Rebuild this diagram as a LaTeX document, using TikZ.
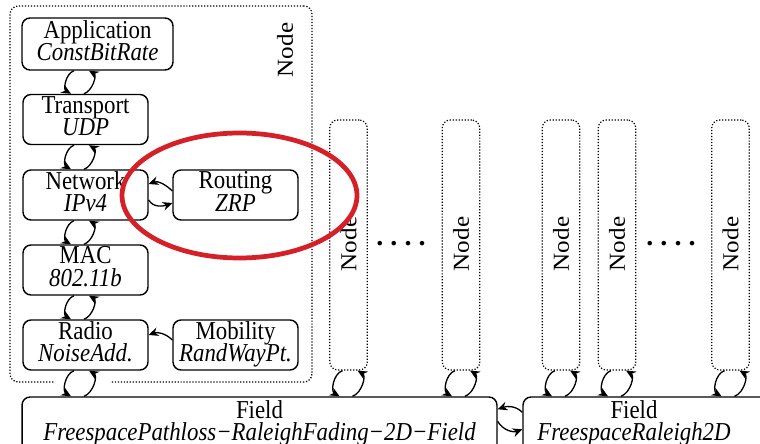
\documentclass[tikz,border=0pt]{standalone}
\usepackage{graphicx}
\usepackage{fontspec}
\setmainfont{Liberation Serif}
\usetikzlibrary{calc,arrows.meta}
\definecolor{ringred}{RGB}{214,32,39}
\newcommand{\vs}[1]{\strut\scalebox{1}[1.13]{#1}}
\newcommand{\tightlines}{\lineskiplimit=-20pt\relax\lineskip=0pt\relax}
\tikzset{
  txtfont/.style={font={\fontsize{13}{13}\selectfont\tightlines}},
  box/.style={draw, line width=0.8pt, rounded corners=0.16cm, align=center, inner sep=0pt,
    txtfont, minimum width=2.5cm, minimum height=1.0cm},
  dbox/.style={draw, densely dotted, line width=0.7pt, rounded corners=0.16cm, inner sep=0pt},
  arr/.style={-{Stealth[length=5.5pt,width=5pt]}, line width=0.75pt},
  lbl/.style={txtfont, inner sep=0pt},
  dotrow/.style={inner sep=0pt, anchor=base, font=\fontsize{16}{16}\selectfont\bfseries},
  ring/.style={draw=ringred, line width=2.7pt},
}
% upper node, lower node, column reference
\newcommand{\vpair}[3]{%
  \draw[arr] ($(#1.south -| #3)+(-6,0)$) to[out=200,in=150] ($(#2.north -| #3)+(-9,0)$);
  \draw[arr] ($(#2.north -| #3)+(4,0)$) to[out=20,in=-30] ($(#1.south -| #3)+(9,0)$);}
\begin{document}
\begin{tikzpicture}[x=0.02cm,y=0.02cm]
\clip (0,0) rectangle (760,443);
\useasboundingbox (0,0) rectangle (760,443);

% big node container
\node[dbox, minimum width=6.04cm, minimum height=7.52cm] (big) at (161,249) {};
\node[lbl, rotate=90] (bigl) at (285,393) {\scalebox{1.1}[1]{Node}};

% layer boxes
\node[box, minimum width=3.02cm, minimum height=1.04cm] (app) at (97.5,399) {\vs{Application}\\\vs{\textit{ConstBitRate}}};
\node[box] (trans) at (85.5,323.5) {\vs{Transport}\\\vs{\textit{UDP}}};
\node[box] (net) at (85.5,248) {\vs{Network}\\\vs{\textit{IPv4}}};
\node[box] (rout) at (235.5,248) {\vs{Routing}\\\vs{\textit{ZRP}}};
\node[box] (mac) at (85.5,173) {\vs{MAC}\\\vs{\textit{802.11b}}};
\node[box] (radio) at (85.5,98) {\vs{Radio}\\\vs{\textit{NoiseAdd.}}};
\node[box] (mob) at (235.5,98) {\vs{Mobility}\\\vs{\textit{RandWayPt.}}};

% other nodes
\foreach \nm/\xx in {n1/348.5, n2/461, n3/561, n4/617, n5/730.5}{
  \node[dbox, minimum width=0.75cm, minimum height=5cm] (\nm) at (\xx,198) {};
  \node[lbl, rotate=90] (\nm l) at (\xx,199) {\scalebox{1.1}[1]{Node}};
}
\node[dotrow] (dots1) at (401,197) {.\hspace{4pt}.\hspace{4pt}.\hspace{4pt}.};
\node[dotrow] (dots2) at (671,197) {.\hspace{4pt}.\hspace{4pt}.\hspace{4pt}.};

% fields
\node[box, minimum width=9.5cm, minimum height=1.4cm] (fieldL) at (259.5,11) {};
\node[box, minimum width=5.54cm, minimum height=1.4cm] (fieldR) at (661.5,11) {};
\node[lbl, align=center] (fieldLt) at (259.5,19) {\vs{Field}\\\vs{\textit{FreespacePathloss−RaleighFading−2D−Field}}};
\node[lbl, align=center] (fieldRt) at (634,19) {\vs{Field}\\\vs{\textit{FreespaceRaleigh2D}}};

% gap in container border
\fill[white] (55,56) rectangle (110,66);

% connectors
\coordinate (colL) at (80,0);
\vpair{app}{trans}{colL}
\vpair{trans}{net}{colL}
\vpair{net}{mac}{colL}
\vpair{mac}{radio}{colL}
\vpair{radio}{fieldL}{colL}
\vpair{n1}{fieldL}{n1}
\vpair{n2}{fieldL}{n2}
\vpair{n3}{fieldR}{n3}
\vpair{n4}{fieldR}{n4}
\vpair{n5}{fieldR}{n5}

\draw[arr] ($(rout.west)+(0,4)$) to[out=135,in=20] ($(net.east)+(0,11)$);
\draw[arr] ($(net.east)+(0,-5)$) to[out=-60,in=200] ($(rout.west)+(0,-8)$);
\draw[arr] ($(mob.west)+(0,5)$) to[out=135,in=20] ($(radio.east)+(0,10)$);
\draw[arr] ($(fieldR.north west)+(0,-16)$) to[out=135,in=20] ($(fieldL.north east)+(0,-13)$);
\draw[arr] ($(fieldL.north east)+(0,-25)$) to[out=-60,in=200] ($(fieldR.north west)+(0,-33)$);

% red ring
\draw[ring] (239.5,247.5) ellipse [x radius=2.35cm, y radius=1.25cm];
\end{tikzpicture}
\end{document}
